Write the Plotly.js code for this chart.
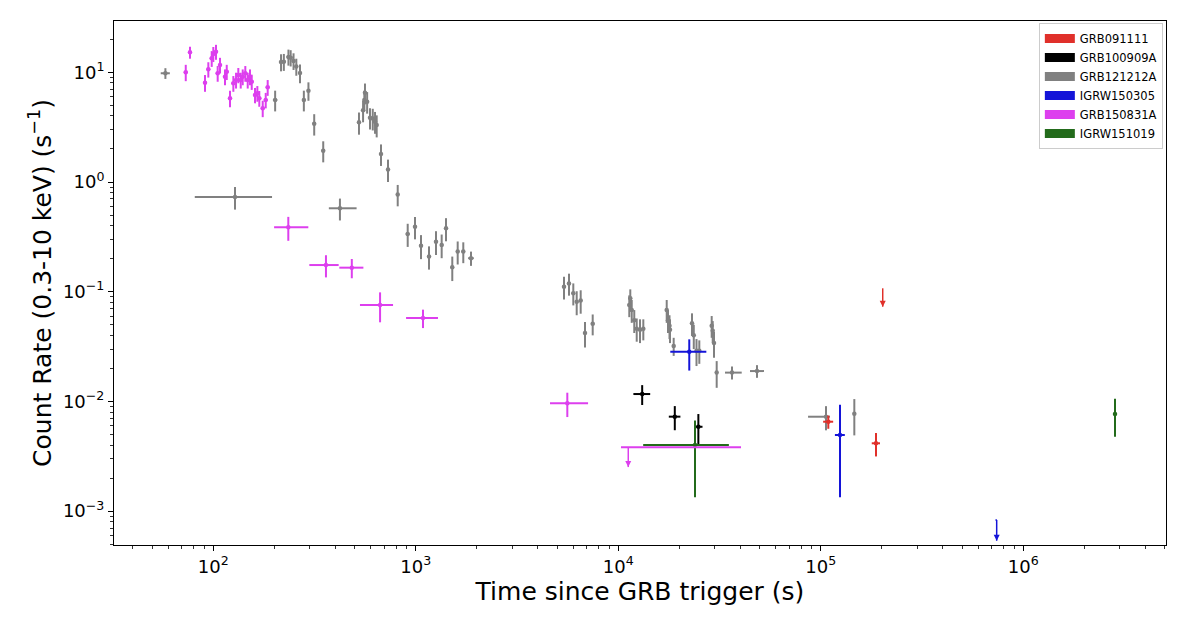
<!DOCTYPE html>
<html><head><meta charset="utf-8">
<script src="https://cdn.plot.ly/plotly-3.0.1.min.js"></script>
<style>html,body{margin:0;padding:0;background:#fff}#chart{width:1200px;height:621px}</style>
</head><body><div id="chart"></div>
<script>
// ---------- series names / legend ----------
const seriesNames = ['GRB091111','GRB100909A','GRB121212A','IGRW150305','GRB150831A','IGRW151019'];
const seriesColors = ['#e0302a','#000000','#808080','#1414d8','#dd3fee','#236b1b'];

// ---------- GRB121212A (gray) ----------
const grayX  = [58,128,202,216,223,235,241,249,257,268,280,295,315,349,
                524,549,557,561,575,594,613,629,641,673,729,814,
                422,912,991,1061,1162,1258,1342,1410,1514,1610,1716,1873,
                5393,5707,5995,6231,6520,6848,7474,
                11330,11460,11650,11990,12330,12800,13290,
                17340,17600,17900,18000,18770,
                23120,23590,24330,25120,
                28920,29260,29690,30610,
                36430,48400,106100,146400];
const grayY  = [9.8,0.73,5.6,12.4,12.5,13.8,13.6,12.7,11.3,9.85,5.6,6.8,3.4,1.93,
                3.5,4.5,5.6,6.5,5.4,3.86,3.8,3.55,3.3,1.8,1.3,0.77,
                0.576,0.336,0.39,0.263,0.209,0.286,0.267,0.378,0.167,0.232,0.232,0.202,
                0.111,0.119,0.097,0.081,0.083,0.042,0.051,
                0.0756,0.087,0.068,0.055,0.046,0.045,0.046,
                0.068,0.055,0.049,0.045,0.032,
                0.0515,0.040,0.029,0.029,
                0.049,0.044,0.034,0.0183,
                0.0183,0.0189,0.00725,0.0077];
const grayXm = [3,47,5,5,5,5,5,5,5,5,5,5,6,7,
                8,8,8,8,8,8,8,8,8,9,10,12,
                50,20,20,22,25,25,25,25,30,30,35,60,
                120,120,120,120,120,120,150,
                200,200,200,200,200,200,200,
                250,250,250,250,300,
                300,300,300,300,
                350,350,350,400,
                2780,3700,19600,2000];
const grayXp = [3,67,5,5,5,5,5,5,5,5,5,5,6,7,
                8,8,8,8,8,8,8,8,8,9,10,12,
                88,20,20,22,25,25,25,25,30,30,35,60,
                120,120,120,120,120,120,150,
                200,200,200,200,200,200,200,
                250,250,250,250,300,
                300,300,300,300,
                350,350,350,400,
                4260,4000,4900,2000];
const grayYe = [1.1,0.17,1.2,2.2,2.2,2.3,2.3,2.2,2.0,1.9,1.2,1.3,0.75,0.42,
                0.8,1.0,1.2,1.4,1.2,0.85,0.85,0.8,0.75,0.4,0.3,0.17,
                0.13,0.08,0.09,0.065,0.05,0.07,0.065,0.09,0.042,0.055,0.05,0.03,
                0.026,0.027,0.022,0.02,0.02,0.011,0.011,
                0.017,0.018,0.016,0.013,0.011,0.011,0.01,
                0.016,0.013,0.012,0.011,0.006,
                0.012,0.01,0.008,0.007,
                0.011,0.01,0.009,0.005,
                0.0025,0.0025,0.0018,0.0028];

// ---------- GRB150831A (magenta) ----------
const magX  = [73.1,76.7,91.0,94.5,98.2,100,103.1,105.1,107.9,114.2,116.5,120.9,125.6,129.5,
               132.9,136.6,139.7,143.9,147.9,151.8,154.8,160.7,165,168.7,175.4,181.5,185.6,
               234.6,360,483,666,1085,5600];
const magY  = [10.0,15.2,8.04,10.65,13.4,14.7,15.4,9.8,11.65,9.12,10.1,5.8,7.94,8.51,
               9.45,8.51,9.12,9.8,8.51,9.12,8.21,6.21,6.44,5.8,4.70,5.59,7.30,
               0.386,0.175,0.1656,0.0756,0.0576,0.0096];
const magXm = [1.6,1.7,2,2,2.2,2.2,2.3,2.3,2.4,2.5,2.6,2.7,2.8,2.9,
               3,3,3.1,3.2,3.3,3.4,3.4,3.6,3.7,3.8,3.9,4,4.1,
               35,62,64,136,190,1000];
const magXp = [1.6,1.7,2,2,2.2,2.2,2.3,2.3,2.4,2.5,2.6,2.7,2.8,2.9,
               3,3,3.1,3.2,3.3,3.4,3.4,3.6,3.7,3.8,3.9,4,4.1,
               60,56,68,106,202,1490];
const magYe = [1.7,1.9,1.4,1.7,2.2,2.3,2.4,1.6,1.9,1.5,1.6,1.0,1.3,1.4,
               1.5,1.4,1.5,1.6,1.4,1.5,1.3,1.0,1.05,0.95,0.8,0.9,1.2,
               0.095,0.04,0.033,0.023,0.011,0.0024];

// ---------- GRB100909A (black) ----------
const blkX  = [13120,19010,24850];
const blkY  = [0.01167,0.00726,0.00587];
const blkXe = [1250,1250,1200];
const blkYe = [0.0024,0.0018,0.0018];

// ---------- IGRW150305 (blue) ----------
const bluX  = [22410,124400];
const bluY  = [0.0284,0.00494];
const bluXm = [4350,7000];
const bluXp = [4800,7000];
const bluYm = [0.0093,0.0036];
const bluYp = [0.0084,0.0044];

// ---------- GRB091111 (red) ----------
const redX  = [108900,187300];
const redY  = [0.00653,0.00415];
const redXe = [6200,8800];
const redYe = [0.0009,0.001];

// ---------- IGRW151019 (green) ----------
const grnX  = [23920,2837000];
const grnY  = [0.00401,0.00767];
const grnXm = [10650,40000];
const grnXp = [11240,40000];
const grnYe = [0.00267,0.0029];

// ---------- upper limits ----------
const ulSeries = ['GRB091111','GRB150831A','IGRW150305'];
const ulX   = [202200,11200,738800];
const ulY   = [0.1074,0.00382,0.00083];
const ulTip = [0.0730,0.00252,0.000537];
const ulXm  = [0,890,9000];
const ulXp  = [0,29160,0];

// ---------- axis ticks ----------
const xTickVals = [1e2,1e3,1e4,1e5,1e6];
const xTickText = ['10<sup>2</sup>','10<sup>3</sup>','10<sup>4</sup>','10<sup>5</sup>','10<sup>6</sup>'];
const yTickVals = [1e-3,1e-2,1e-1,1,10];
const yTickText = ['10<sup>\u22123</sup>','10<sup>\u22122</sup>','10<sup>\u22121</sup>','10<sup>0</sup>','10<sup>1</sup>'];

// ---------- build traces ----------
function colorOf(name){ return seriesColors[seriesNames.indexOf(name)]; }
function errTrace(x,y,xm,xp,ym,yp,color,msize){
  return {type:'scatter',mode:'markers',x:x,y:y,showlegend:false,hoverinfo:'x+y',
    marker:{color:color,size:msize,line:{width:0}},
    error_x:{type:'data',symmetric:false,array:xp,arrayminus:xm,color:color,thickness:2,width:0},
    error_y:{type:'data',symmetric:false,array:yp,arrayminus:ym,color:color,thickness:2,width:0}};
}
const traces = [];
traces.push(errTrace(grayX,grayY,grayXm,grayXp,grayYe,grayYe,colorOf('GRB121212A'),4.5));
traces.push(errTrace(redX,redY,redXe,redXe,redYe,redYe,colorOf('GRB091111'),4.5));
traces.push(errTrace(blkX,blkY,blkXe,blkXe,blkYe,blkYe,colorOf('GRB100909A'),4.5));
traces.push(errTrace(bluX,bluY,bluXm,bluXp,bluYm,bluYp,colorOf('IGRW150305'),4.5));
traces.push(errTrace(magX,magY,magXm,magXp,magYe,magYe,colorOf('GRB150831A'),4.5));
traces.push(errTrace(grnX,grnY,grnXm,grnXp,grnYe,grnYe,colorOf('IGRW151019'),4.5));

// upper limits: stem + horizontal bin, then arrow head at tip
ulX.forEach(function(x,i){
  const c = colorOf(ulSeries[i]);
  traces.push({type:'scatter',mode:'markers',x:[x],y:[ulY[i]],showlegend:false,hoverinfo:'x+y',
    marker:{color:c,size:1,opacity:0},
    error_x:{type:'data',symmetric:false,array:[ulXp[i]],arrayminus:[ulXm[i]],color:c,thickness:2,width:0},
    error_y:{type:'data',symmetric:false,array:[0],arrayminus:[ulY[i]-ulTip[i]],color:c,thickness:1.5,width:0}});
  traces.push({type:'scatter',mode:'markers',x:[x],y:[ulTip[i]],showlegend:false,hoverinfo:'skip',
    marker:{color:c,size:6,symbol:'arrow-down',line:{width:0}}});
});

// legend patches
seriesNames.forEach(function(n,i){
  traces.push({type:'scatter',mode:'lines',x:[null],y:[null],name:n,
    line:{color:seriesColors[i],width:9},hoverinfo:'skip'});
});

const FONT = 'DejaVu Sans, Liberation Sans, sans-serif';
const layout = {
  width:1200,height:621,
  margin:{l:114,r:34,t:21,b:76},
  paper_bgcolor:'#fff',plot_bgcolor:'#fff',
  font:{family:FONT,color:'#000',size:18},
  showlegend:true,
  legend:{x:0.997,xanchor:'right',y:0.996,yanchor:'top',
    bgcolor:'#fff',bordercolor:'#cccccc',borderwidth:1,
    font:{family:FONT,size:11.5,color:'#000'},tracegroupgap:0,itemwidth:30},
  xaxis:{type:'log',range:[1.5096,6.7047],
    tickvals:xTickVals,ticktext:xTickText,
    ticks:'outside',ticklen:5,tickwidth:1,tickcolor:'#000',
    minor:{ticks:'outside',ticklen:3,tickwidth:0.8,tickcolor:'#000',dtick:'D1',showgrid:false},
    showgrid:false,zeroline:false,showline:true,linecolor:'#000',linewidth:1,mirror:true,
    tickfont:{family:FONT,size:18,color:'#000'},
    title:{text:'Time since GRB trigger (s)',font:{family:FONT,size:25,color:'#000'},standoff:6}},
  yaxis:{type:'log',range:[-3.309,1.4676],
    tickvals:yTickVals,ticktext:yTickText,
    ticks:'outside',ticklen:5,tickwidth:1,tickcolor:'#000',
    minor:{ticks:'outside',ticklen:3,tickwidth:0.8,tickcolor:'#000',dtick:'D1',showgrid:false},
    showgrid:false,zeroline:false,showline:true,linecolor:'#000',linewidth:1,mirror:true,
    tickfont:{family:FONT,size:18,color:'#000'},
    title:{text:'Count Rate (0.3-10 keV) (s<sup>\u22121</sup>)',font:{family:FONT,size:25,color:'#000'},standoff:4}}
};
Plotly.newPlot('chart',traces,layout,{displayModeBar:false,staticPlot:true});
</script></body></html>
